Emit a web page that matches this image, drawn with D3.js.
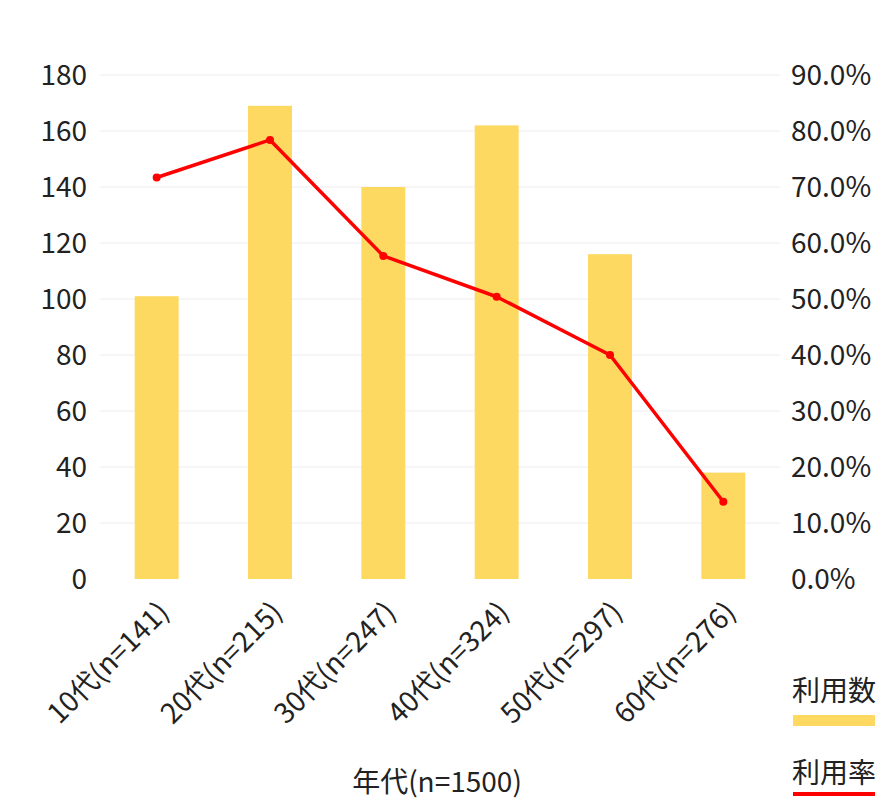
<!DOCTYPE html>
<html><head><meta charset="utf-8">
<script src="https://cdn.jsdelivr.net/npm/d3@7"></script>
<style>body{margin:0;background:#fff}text{font-family:"Noto Sans CJK JP","Noto Sans",sans-serif;fill:#222}</style>
</head><body><svg id="c" width="880" height="800"></svg>
<script>
const categories = ["10代(n=141)","20代(n=215)","30代(n=247)","40代(n=324)","50代(n=297)","60代(n=276)"];
const counts = [101, 169, 140, 162, 116, 38];
const rates = [71.7, 78.4, 57.7, 50.4, 40.0, 13.8];
const leftTicks = [0,20,40,60,80,100,120,140,160,180];
const rightTicks = [0,10,20,30,40,50,60,70,80,90];
const xTitle = "年代(n=1500)";
const legendBar = "利用数";
const legendLine = "利用率";

const svg = d3.select("#c");
const fs = 28;
const x = d3.scaleBand().domain(categories).range([100,780]).paddingInner(0.612).paddingOuter(0.306);
const yL = d3.scaleLinear().domain([0,180]).range([579,75]);
const yR = d3.scaleLinear().domain([0,90]).range([579,75]);

// grid
svg.append("g").selectAll("line").data(leftTicks.filter(d=>d>0)).join("line")
  .attr("x1",100).attr("x2",780).attr("y1",d=>yL(d)).attr("y2",d=>yL(d))
  .attr("stroke","#f3f3f3").attr("stroke-width",1.5);

// left axis
const gl = svg.append("g").attr("transform","translate(100,0)")
  .call(d3.axisLeft(yL).tickValues(leftTicks).tickSize(0).tickPadding(13));
gl.select(".domain").remove();
gl.selectAll("text").style("font-size",fs+"px").attr("dy","0.35em");

// right axis
const gr = svg.append("g").attr("transform","translate(780,0)")
  .call(d3.axisRight(yR).tickValues(rightTicks).tickSize(0).tickPadding(11).tickFormat(d=>d3.format(".1f")(d)+"%"));
gr.select(".domain").remove();
gr.selectAll("text").style("font-size",fs+"px").attr("dy","0.35em");

// bars
svg.append("g").selectAll("rect").data(counts).join("rect")
  .attr("x",(d,i)=>x(categories[i])).attr("width",x.bandwidth())
  .attr("y",d=>yL(d)).attr("height",d=>yL(0)-yL(d)).attr("fill","#FDD962");

// line
const cx = i => x(categories[i]) + x.bandwidth()/2;
svg.append("path").datum(rates)
  .attr("d", d3.line().x((d,i)=>cx(i)).y(d=>yR(d)))
  .attr("fill","none").attr("stroke","#FF0000").attr("stroke-width",3.5).attr("stroke-linejoin","round");
svg.append("g").selectAll("circle").data(rates).join("circle")
  .attr("cx",(d,i)=>cx(i)).attr("cy",d=>yR(d)).attr("r",4).attr("fill","#FF0000");

// x labels
const gx = svg.append("g").attr("transform","translate(0,579)")
  .call(d3.axisBottom(x).tickSize(0).tickPadding(0));
gx.select(".domain").remove();
gx.selectAll("text").style("font-size",fs+"px")
  .attr("text-anchor","end").attr("dy",0).attr("y",0)
  .attr("transform","translate(14,35) rotate(-45)");

// x title
svg.append("text").attr("x",437).attr("y",792).attr("text-anchor","middle")
  .style("font-size",fs+"px").text(xTitle);

// legend
svg.append("text").attr("x",792).attr("y",701).style("font-size",fs+"px").text(legendBar);
svg.append("rect").attr("x",793).attr("y",715).attr("width",82).attr("height",11).attr("fill","#FDD962");
svg.append("text").attr("x",792).attr("y",783).style("font-size",fs+"px").text(legendLine);
svg.append("line").attr("x1",793).attr("x2",875).attr("y1",794).attr("y2",794).attr("stroke","#FF0000").attr("stroke-width",4);
</script></body></html>
